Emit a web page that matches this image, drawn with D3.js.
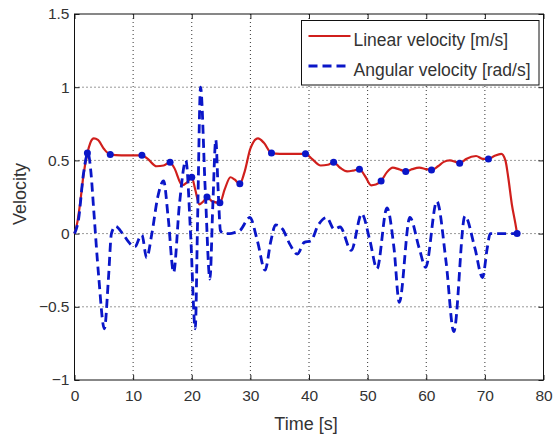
<!DOCTYPE html>
<html>
<head>
<meta charset="utf-8">
<script src="https://cdn.jsdelivr.net/npm/d3@7"></script>
<style>
  html, body { margin: 0; padding: 0; background: #fff; }
  svg { display: block; font-family: "Liberation Sans", Arial, sans-serif; }
</style>
</head>
<body>
<svg id="chart" width="556" height="434"></svg>
<script>
// linear velocity [m/s]
var linTime = [0, 0.5, 1, 1.5, 2.2, 2.7, 3.3, 4, 5, 6.1, 8, 10, 11.5, 12.5, 14, 15.2, 16.3, 17, 18.4, 19.2, 20,
  20.6, 21.3, 22, 22.6, 23.5, 24.8, 25.6, 26.6, 27.3, 28.2, 29, 30, 31.3, 32.3, 33.6, 35, 37, 39.4, 40.5, 42,
  43.2, 44.2, 45.3, 46.5, 47.5, 48.6, 49.6, 50.6, 51.4, 52.3, 53.3, 54.3, 55.3, 56.5, 57.6, 58.8, 60, 60.9,
  62, 63, 64, 65, 65.7, 66.8, 68.5, 69.7, 70.6, 71.6, 72.8, 73.5, 74, 74.6, 75.2, 75.5];
var linValue = [0, 0.08, 0.22, 0.39, 0.55, 0.62, 0.65, 0.64, 0.58, 0.54, 0.535, 0.535, 0.535, 0.51, 0.46, 0.465, 0.487, 0.45, 0.33, 0.35, 0.385,
  0.3, 0.2, 0.22, 0.25, 0.22, 0.21, 0.3, 0.385, 0.37, 0.34, 0.42, 0.58, 0.65, 0.62, 0.55, 0.545, 0.545, 0.545, 0.51, 0.465,
  0.47, 0.487, 0.45, 0.425, 0.43, 0.44, 0.39, 0.33, 0.335, 0.36, 0.42, 0.45, 0.44, 0.425, 0.44, 0.45, 0.44, 0.435,
  0.46, 0.49, 0.5, 0.49, 0.48, 0.51, 0.53, 0.51, 0.51, 0.53, 0.545, 0.5, 0.38, 0.2, 0.07, 0];

// angular velocity [rad/s]
var angTime = [0, 0.7, 1.5, 2.3, 2.8, 3.3, 4.1, 5.1, 5.8, 6.3, 7, 8.2, 9.5, 10.3, 11.2, 11.5, 12.3, 13.2, 14.2, 15.2,
  16, 16.9, 17.9, 19, 19.8, 20.6, 21, 21.5, 22.3, 23.1, 23.6, 24.1, 24.5, 24.9, 25.5, 26.5, 27.5, 28.2, 29.9, 31.2,
  32.5, 33.5, 34.3, 35.5, 36.7, 38, 39.2, 40.3, 41.6, 43, 44.3, 45.3, 47.2, 49, 50.4, 51.6, 53.3, 54.5, 55.4, 57.2,
  58.8, 59.9, 61.8, 63.4, 64.7, 66.6, 68.3, 69.6, 70.4, 70.9, 75.5];
var angValue = [0, 0.1, 0.4, 0.55, 0.42, 0.15, -0.28, -0.65, -0.3, 0, 0.05, 0, -0.07, -0.09, -0.02, -0.01, -0.165, 0, 0.25, 0.36,
  0.1, -0.265, 0.2, 0.5, 0, -0.65, 0.1, 1.0, 0.3, -0.31, 0.2, 0.64, 0.3, 0.02, 0, 0, 0.01, 0.02, 0.11, -0.05,
  -0.25, -0.05, 0.06, 0.03, -0.07, -0.14, -0.06, -0.05, 0.06, 0.11, 0.03, 0.045, -0.115, 0.135, -0.05, -0.24, 0.175, -0.1, -0.47, 0.11,
  -0.1, -0.23, 0.22, -0.2, -0.67, 0.12, -0.1, -0.3, -0.1, 0, 0];

// waypoint markers
var markTime = [2.2, 6.1, 11.5, 16.3, 20, 22.6, 24.8, 28.2, 33.6, 39.4, 44.2, 48.6, 52.3, 56.5, 60.9, 65.7, 70.6, 75.5];
var markValue = [0.55, 0.54, 0.535, 0.487, 0.385, 0.25, 0.21, 0.34, 0.55, 0.545, 0.487, 0.44, 0.36, 0.425, 0.435, 0.48, 0.51, 0];

var xTicks = [0, 10, 20, 30, 40, 50, 60, 70, 80];
var yTicks = [-1, -0.5, 0, 0.5, 1, 1.5];
var legendLabels = ['Linear velocity [m/s]', 'Angular velocity [rad/s]'];

var red = '#d01f1c';
var blue = '#0a16c8';
var textColor = '#333';

var margin = { left: 74.5, top: 14, right: 12.5, bottom: 54 };
var w = 556 - margin.left - margin.right;
var h = 434 - margin.top - margin.bottom;

var x = d3.scaleLinear().domain([0, 80]).range([0, w]);
var y = d3.scaleLinear().domain([-1, 1.5]).range([h, 0]);

var svg = d3.select('#chart');
var g = svg.append('g').attr('transform', 'translate(' + margin.left + ',' + margin.top + ')');

// dotted grid
var grid = g.append('g').attr('class', 'grid');

grid.selectAll('line.gx')
  .data(xTicks.slice(1, -1))
  .enter()
  .append('line')
  .attr('x1', function(d) { return x(d); })
  .attr('x2', function(d) { return x(d); })
  .attr('y1', 0)
  .attr('y2', h);

grid.selectAll('line.gy')
  .data(yTicks.slice(1, -1))
  .enter()
  .append('line')
  .attr('y1', function(d) { return y(d); })
  .attr('y2', function(d) { return y(d); })
  .attr('x1', 0)
  .attr('x2', w);

grid.selectAll('line')
  .style('stroke', '#333')
  .style('stroke-width', 1)
  .style('stroke-dasharray', '1,3');

// axes with inward ticks, mirrored on top and right
g.append('g')
  .attr('transform', 'translate(0,' + h + ')')
  .call(d3.axisBottom(x).tickValues(xTicks).tickSize(-5).tickPadding(10).tickFormat(d3.format('d')));
g.append('g')
  .call(d3.axisLeft(y).tickValues(yTicks).tickSize(-5).tickPadding(5).tickFormat(d3.format('')));
g.append('g')
  .call(d3.axisTop(x).tickValues(xTicks).tickSize(-5).tickFormat(''));
g.append('g')
  .attr('transform', 'translate(' + w + ',0)')
  .call(d3.axisRight(y).tickValues(yTicks).tickSize(-5).tickFormat(''));

g.selectAll('.domain').remove();
g.selectAll('.tick line').style('stroke', '#222');
g.selectAll('.tick text')
  .style('font-family', '"Liberation Sans", Arial, sans-serif')
  .style('font-size', '15.5px')
  .style('fill', textColor);

g.append('rect')
  .attr('width', w)
  .attr('height', h)
  .style('fill', 'none')
  .style('stroke', '#111')
  .style('stroke-width', 1);

// series
var lin = linTime.map(function(t, i) { return [t, linValue[i]]; });
var ang = angTime.map(function(t, i) { return [t, angValue[i]]; });

var line = d3.line()
  .x(function(d) { return x(d[0]); })
  .y(function(d) { return y(d[1]); })
  .curve(d3.curveMonotoneX);

g.append('path')
  .datum(lin)
  .attr('d', line)
  .style('fill', 'none')
  .style('stroke', red)
  .style('stroke-width', 2.2);

g.append('path')
  .datum(ang)
  .attr('d', line)
  .style('fill', 'none')
  .style('stroke', blue)
  .style('stroke-width', 2.8)
  .style('stroke-dasharray', '9,5');

g.selectAll('circle.mark')
  .data(markTime)
  .enter()
  .append('circle')
  .attr('class', 'mark')
  .attr('cx', function(d) { return x(d); })
  .attr('cy', function(d, i) { return y(markValue[i]); })
  .attr('r', 3.5)
  .style('fill', blue);

// axis titles
svg.append('text')
  .attr('x', 306)
  .attr('y', 430)
  .attr('text-anchor', 'middle')
  .style('font-size', '18px')
  .style('fill', textColor)
  .text('Time [s]');

svg.append('text')
  .attr('transform', 'translate(26,' + (margin.top + h / 2 - 3) + ') rotate(-90)')
  .attr('text-anchor', 'middle')
  .style('font-size', '18px')
  .style('fill', textColor)
  .text('Velocity');

// legend
var legend = svg.append('g').attr('transform', 'translate(301.5,20.5)');
legend.append('rect')
  .attr('width', 237.5)
  .attr('height', 64.5)
  .style('fill', '#fff')
  .style('stroke', '#111');

var items = legend.selectAll('g.item')
  .data(legendLabels)
  .enter()
  .append('g')
  .attr('class', 'item')
  .attr('transform', function(d, i) { return 'translate(0,' + (15.5 + i * 30) + ')'; });

items.append('line')
  .attr('x1', 7)
  .attr('x2', 49)
  .style('stroke', function(d, i) { return i === 0 ? red : blue; })
  .style('stroke-width', function(d, i) { return i === 0 ? 2.2 : 2.8; })
  .style('stroke-dasharray', function(d, i) { return i === 0 ? null : '9,5'; });

items.append('text')
  .attr('x', 52)
  .attr('y', 10)
  .style('font-size', '17.5px')
  .style('fill', textColor)
  .text(function(d) { return d; });
</script>
</body>
</html>
